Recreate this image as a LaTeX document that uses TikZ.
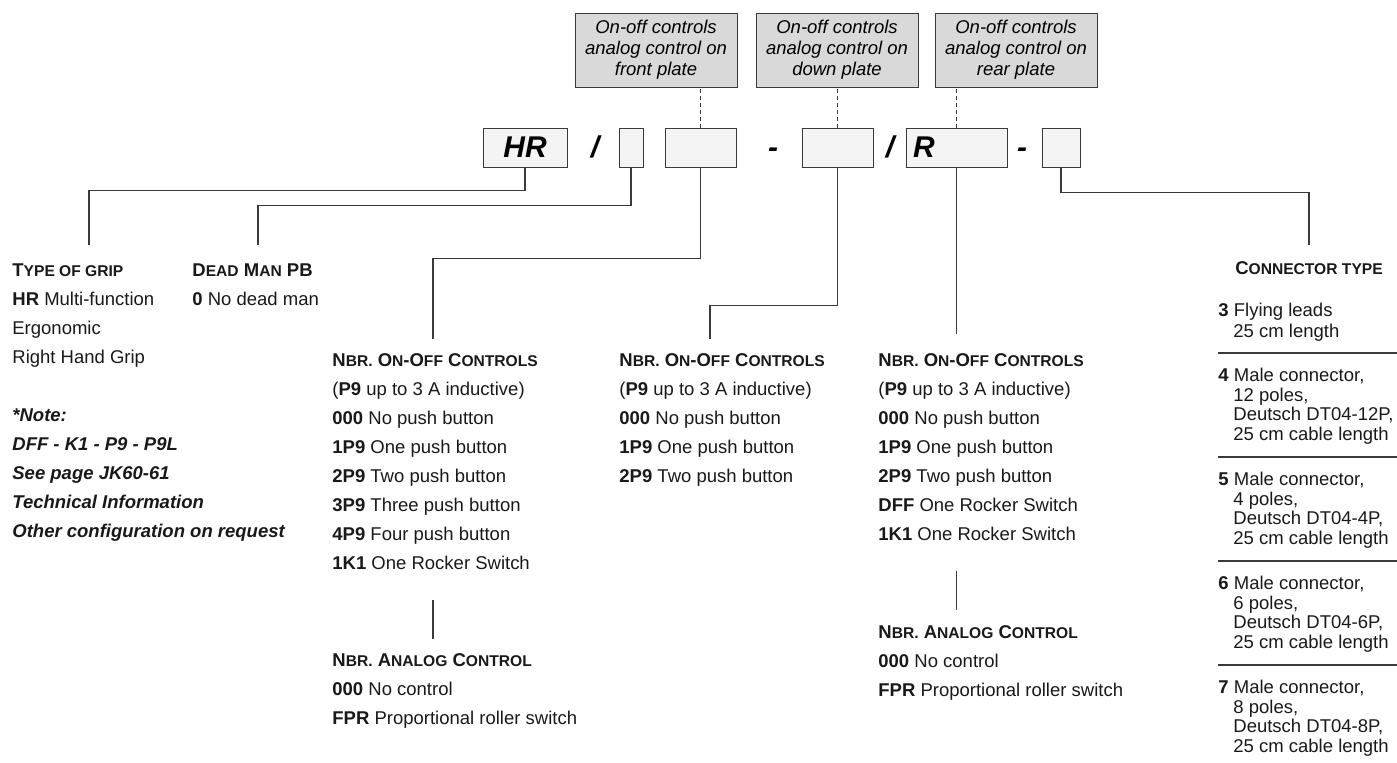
\documentclass[tikz,border=0pt]{standalone}
\usepackage{fontspec}
\setmainfont{Liberation Sans}
\definecolor{linec}{HTML}{3A3A3A}
\definecolor{boxfill}{HTML}{F4F4F4}
\definecolor{notefill}{HTML}{D9D9D9}
% small capitals, faked with a smaller size
\newcommand{\lc}[1]{{\fontsize{7.8}{8}\selectfont #1}}
\tikzset{
  txt/.style={anchor=base west, inner sep=0pt, text=black!90, font=\fontsize{9.25}{11}\selectfont},
  code/.style={draw=linec, fill=boxfill, inner sep=0pt, minimum height=19.5pt, font=\fontsize{15}{15}\selectfont\bfseries\itshape},
  sepmark/.style={anchor=base, inner sep=0pt, font=\fontsize{15}{15}\selectfont\bfseries\itshape},
  note/.style={draw=linec, fill=notefill, minimum width=81pt, minimum height=37pt, inner sep=0pt, align=center,
    font=\fontsize{9.25}{10.5}\selectfont\itshape, execute at begin node=\rule{0pt}{10.75pt}},
  wire/.style={draw=linec, line width=0.7pt}
}
\begin{document}
\begin{tikzpicture}[x=0.5pt, y=-0.5pt]
  \useasboundingbox (0,0) rectangle (1397,762);

  % code row
  \node[code, minimum width=42pt] (grip) at (525,147.5) {HR};
  \node[sepmark] (s1) at (595,157.5) {/};
  \node[code, minimum width=12pt] (dman) at (631,147.5) {};
  \node[code, minimum width=35.5pt] (front) at (700.5,147.5) {};
  \node[sepmark] (s2) at (773,157.5) {-};
  \node[code, minimum width=35.5pt] (down) at (837.5,147.5) {};
  \node[sepmark] (s3) at (890,157.5) {/};
  \node[code, text width=43.5pt, inner xsep=3.5pt, align=left] (rear) at (956.5,147.5) {R};
  \node[sepmark] (s4) at (1022,157.5) {-};
  \node[code, minimum width=19pt] (conn) at (1061,147.5) {};

  % grey notes above
  \node[note] (nfront) at (656,50) {On-off controls\\analog control on\\front plate};
  \node[note] (ndown) at (837,50) {On-off controls\\analog control on\\down plate};
  \node[note] (nrear) at (1016,50) {On-off controls\\analog control on\\rear plate};
  \foreach \c/\n in {front/nfront, down/ndown, rear/nrear}
    \draw[wire, dash pattern=on 2pt off 1.5pt] (\c.north) -- (\c.north |- \n.south);

  % leader lines
  \coordinate (gripend) at (89,245);
  \coordinate (dmanend) at (258,245);
  \coordinate (frontend) at (433,339);
  \coordinate (downend) at (710,339);
  \coordinate (rearend) at (956.5,334);
  \coordinate (connend) at (1309,245);
  \draw[wire] (grip.south) -- ++(0,23) -| (gripend);
  \draw[wire] (dman.south) -- ++(0,38) -| (dmanend);
  \draw[wire] (front.south) -- ++(0,91) -| (frontend);
  \draw[wire] (down.south) -- ++(0,138) -| (downend);
  \draw[wire] (rear.south) -- (rearend);
  \draw[wire] (conn.south) -- ++(0,25) -| (connend);

  % type of grip
  \node[txt] (hgrip) at (12,276.5) {\textbf{T\lc{YPE OF GRIP}}};
  \foreach \t [count=\i] in {{\textbf{HR} Multi-function}, Ergonomic, Right Hand Grip}
    \node[txt] (grip\i) at (12,276.5+29*\i) {\t};
  \foreach \t [count=\i from 5] in {*Note:, DFF - K1 - P9 - P9L, See page JK60-61, Technical Information, Other configuration on request}
    \node[txt, font=\fontsize{9.25}{11}\selectfont\bfseries\itshape] (note\i) at (12,276.5+29*\i) {\t};

  % dead man
  \node[txt] (hdman) at (192,276.5) {\textbf{D\lc{EAD} M\lc{AN} PB}};
  \node[txt] (ldman1) at (192,305.5) {\textbf{0} No dead man};

  % on-off front plate
  \node[txt] (hfront) at (332,366.5) {\textbf{N\lc{BR.} O\lc{N}-O\lc{FF} C\lc{ONTROLS}}};
  \node[txt] (pfront) at (332,395.5) {(\textbf{P9} up to 3 A inductive)};
  \foreach \c/\t [count=\i from 2] in {000/No push button, 1P9/One push button, 2P9/Two push button, 3P9/Three push button, 4P9/Four push button, 1K1/One Rocker Switch}
    \node[txt] (lfront\i) at (332,366.5+29*\i) {\textbf{\c} \t};
  \draw[wire] (lfront7.base west) ++(101,30) -- ++(0,39);
  \node[txt] (hafront) at (332,666.5) {\textbf{N\lc{BR.} A\lc{NALOG} C\lc{ONTROL}}};
  \node[txt] (afront1) at (332,695.5) {\textbf{000} No control};
  \node[txt] (afront2) at (332,724.5) {\textbf{FPR} Proportional roller switch};

  % on-off down plate
  \node[txt] (hdown) at (619,366.5) {\textbf{N\lc{BR.} O\lc{N}-O\lc{FF} C\lc{ONTROLS}}};
  \node[txt] (pdown) at (619,395.5) {(\textbf{P9} up to 3 A inductive)};
  \foreach \c/\t [count=\i from 2] in {000/No push button, 1P9/One push button, 2P9/Two push button}
    \node[txt] (ldown\i) at (619,366.5+29*\i) {\textbf{\c} \t};

  % on-off rear plate
  \node[txt] (hrear) at (878,366.5) {\textbf{N\lc{BR.} O\lc{N}-O\lc{FF} C\lc{ONTROLS}}};
  \node[txt] (prear) at (878,395.5) {(\textbf{P9} up to 3 A inductive)};
  \foreach \c/\t [count=\i from 2] in {000/No push button, 1P9/One push button, 2P9/Two push button, DFF/One Rocker Switch, 1K1/One Rocker Switch}
    \node[txt] (lrear\i) at (878,366.5+29*\i) {\textbf{\c} \t};
  \draw[wire] (lrear6.base west) ++(78.5,30) -- ++(0,39);
  \node[txt] (harear) at (878,638) {\textbf{N\lc{BR.} A\lc{NALOG} C\lc{ONTROL}}};
  \node[txt] (arear1) at (878,667) {\textbf{000} No control};
  \node[txt] (arear2) at (878,696) {\textbf{FPR} Proportional roller switch};

  % connector type
  \node[txt, anchor=base] (hconn) at (1309,274.5) {\textbf{C\lc{ONNECTOR TYPE}}};
  \node[txt] (cm0) at (1218,316.5) {\textbf{3} Flying leads};
  \node[txt] (cl0) at (1233,337) {25 cm length};
  \foreach \k/\n/\p/\d in {1/4/12/12P, 2/5/4/4P, 3/6/6/6P, 4/7/8/8P} {
    \draw[wire] (1218,249+104*\k) -- (1397,249+104*\k);
    \node[txt] (cm\k) at (1218,277.5+104*\k) {\textbf{\n} Male connector,};
    \node[txt] (cp\k) at (1233,297+104*\k) {\p{} poles,};
    \node[txt] (cd\k) at (1233,316.5+104*\k) {Deutsch DT04-\d,};
    \node[txt] (cl\k) at (1233,336+104*\k) {25 cm cable length};
  }
\end{tikzpicture}
\end{document}
